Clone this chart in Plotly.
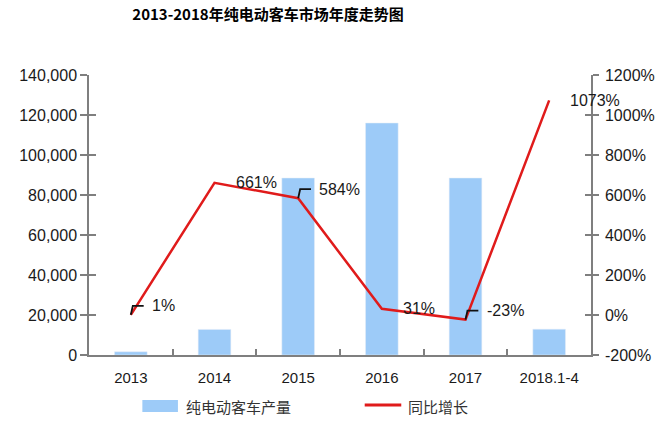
import plotly.graph_objects as go

# ---- data ----
categories = ["2013", "2014", "2015", "2016", "2017", "2018.1-4"]
production = [1600, 12800, 88500, 116000, 88500, 12900]
growth = [1, 661, 584, 31, -23, 1073]
growth_labels = ["1%", "661%", "584%", "31%", "-23%", "1073%"]
has_leader = [True, False, True, False, True, False]
y_ticks = [0, 20000, 40000, 60000, 80000, 100000, 120000, 140000]
y2_ticks = [-200, 0, 200, 400, 600, 800, 1000, 1200]

title_text = "2013-2018年纯电动客车市场年度走势图"
legend_bar = "纯电动客车产量"
legend_line = "同比增长"

# ---- layout geometry (pixels) ----
W, H = 667, 422
L, R, T, B = 89, 597, 75, 355
PW, PH = R - L, B - T

BAR_COLOR = "#9DCBF8"
LINE_COLOR = "#E01B1B"
AXIS_COLOR = "#7F7F7F"
TXT = "#1a1a1a"
FONT = "Liberation Sans, Arial, sans-serif"
CJK = "Noto Sans CJK SC, sans-serif"

def px_x(p):
    return (p - L) / PW

def px_y(p):
    return (B - p) / PH

fig = go.Figure()
fig.add_trace(go.Bar(x=categories, y=production, marker_color=BAR_COLOR,
                     width=0.39, showlegend=False, yaxis="y"))
fig.add_trace(go.Scatter(x=categories, y=growth, mode="lines",
                         line=dict(color=LINE_COLOR, width=2.5),
                         showlegend=False, yaxis="y2"))

# data labels
cat_px = PW / len(categories)
y2_range = [-200, 1200]
y2_per_px = (y2_range[1] - y2_range[0]) / PH
shapes = []
annotations = []
for i, (g, lab, ld) in enumerate(zip(growth, growth_labels, has_leader)):
    yshift = 9 if ld else 0
    annotations.append(dict(x=i, y=g, xref="x", yref="y2", text=lab,
                            showarrow=False, xanchor="left", yanchor="middle",
                            xshift=19, yshift=yshift,
                            font=dict(family=FONT, size=16, color=TXT)))
    if ld:
        dy = 9 * y2_per_px
        x1 = i + 2 / cat_px
        x2 = i + 13 / cat_px
        shapes.append(dict(type="path", xref="x", yref="y2",
                           path=f"M {i},{g} L {x1},{g+dy} L {x2},{g+dy}",
                           line=dict(color="#111111", width=1.8)))

# manual legend
shapes.append(dict(type="rect", xref="paper", yref="paper",
                   x0=px_x(143), x1=px_x(179), y0=px_y(412), y1=px_y(400),
                   fillcolor=BAR_COLOR, line=dict(width=0)))
shapes.append(dict(type="line", xref="paper", yref="paper",
                   x0=px_x(368), x1=px_x(405), y0=px_y(405), y1=px_y(405),
                   line=dict(color=LINE_COLOR, width=3)))
annotations.append(dict(x=px_x(185), y=px_y(406), xref="paper", yref="paper",
                        text=legend_bar, showarrow=False, xanchor="left",
                        yanchor="middle", font=dict(family=CJK, size=15, color="#333333")))
annotations.append(dict(x=px_x(410), y=px_y(406), xref="paper", yref="paper",
                        text=legend_line, showarrow=False, xanchor="left",
                        yanchor="middle", font=dict(family=CJK, size=15, color="#333333")))

axis_common = dict(showgrid=False, zeroline=False, showline=True,
                   linecolor=AXIS_COLOR, linewidth=1.5,
                   tickcolor=AXIS_COLOR, tickwidth=1.5)

fig.update_layout(
    width=W, height=H,
    margin=dict(l=L, r=W - R, t=T, b=H - B, pad=0),
    paper_bgcolor="white", plot_bgcolor="white",
    title=dict(text="<b>" + title_text + "</b>", x=268 / W, xanchor="center",
               y=1 - 15 / H, yanchor="middle",
               font=dict(family=CJK, size=15, color="#000000")),
    xaxis=dict(type="category", range=[-0.5, len(categories) - 0.5],
               tickson="boundaries", ticks="inside", ticklen=6,
               ticklabelstandoff=8,
               tickfont=dict(family=FONT, size=15, color=TXT),
               **axis_common),
    yaxis=dict(range=[0, 140000], tickvals=y_ticks,
               ticktext=[f"{v:,}" for v in y_ticks],
               ticks="outside", ticklen=7,
               tickfont=dict(family=FONT, size=16, color=TXT),
               **axis_common),
    yaxis2=dict(range=y2_range, tickvals=y2_ticks,
                ticktext=[f"{v}%" for v in y2_ticks],
                overlaying="y", side="right", ticks="outside", ticklen=6,
                ticklabelstandoff=3,
                tickfont=dict(family=FONT, size=16, color=TXT),
                **axis_common),
    yaxis3=dict(range=[0, 140000], tickvals=y_ticks, overlaying="y",
                side="left", ticks="inside", ticklen=7, showticklabels=False,
                **axis_common),
    yaxis4=dict(range=y2_range, tickvals=y2_ticks, overlaying="y",
                side="right", ticks="inside", ticklen=6, showticklabels=False,
                **axis_common),
    shapes=shapes,
    annotations=annotations,
    bargap=0.61,
)

# dummy invisible traces to activate overlay axes
fig.add_trace(go.Scatter(x=[categories[0]], y=[0], yaxis="y3", mode="markers",
                         marker=dict(opacity=0), showlegend=False, hoverinfo="skip"))
fig.add_trace(go.Scatter(x=[categories[0]], y=[0], yaxis="y4", mode="markers",
                         marker=dict(opacity=0), showlegend=False, hoverinfo="skip"))

fig.write_html("out.html")
